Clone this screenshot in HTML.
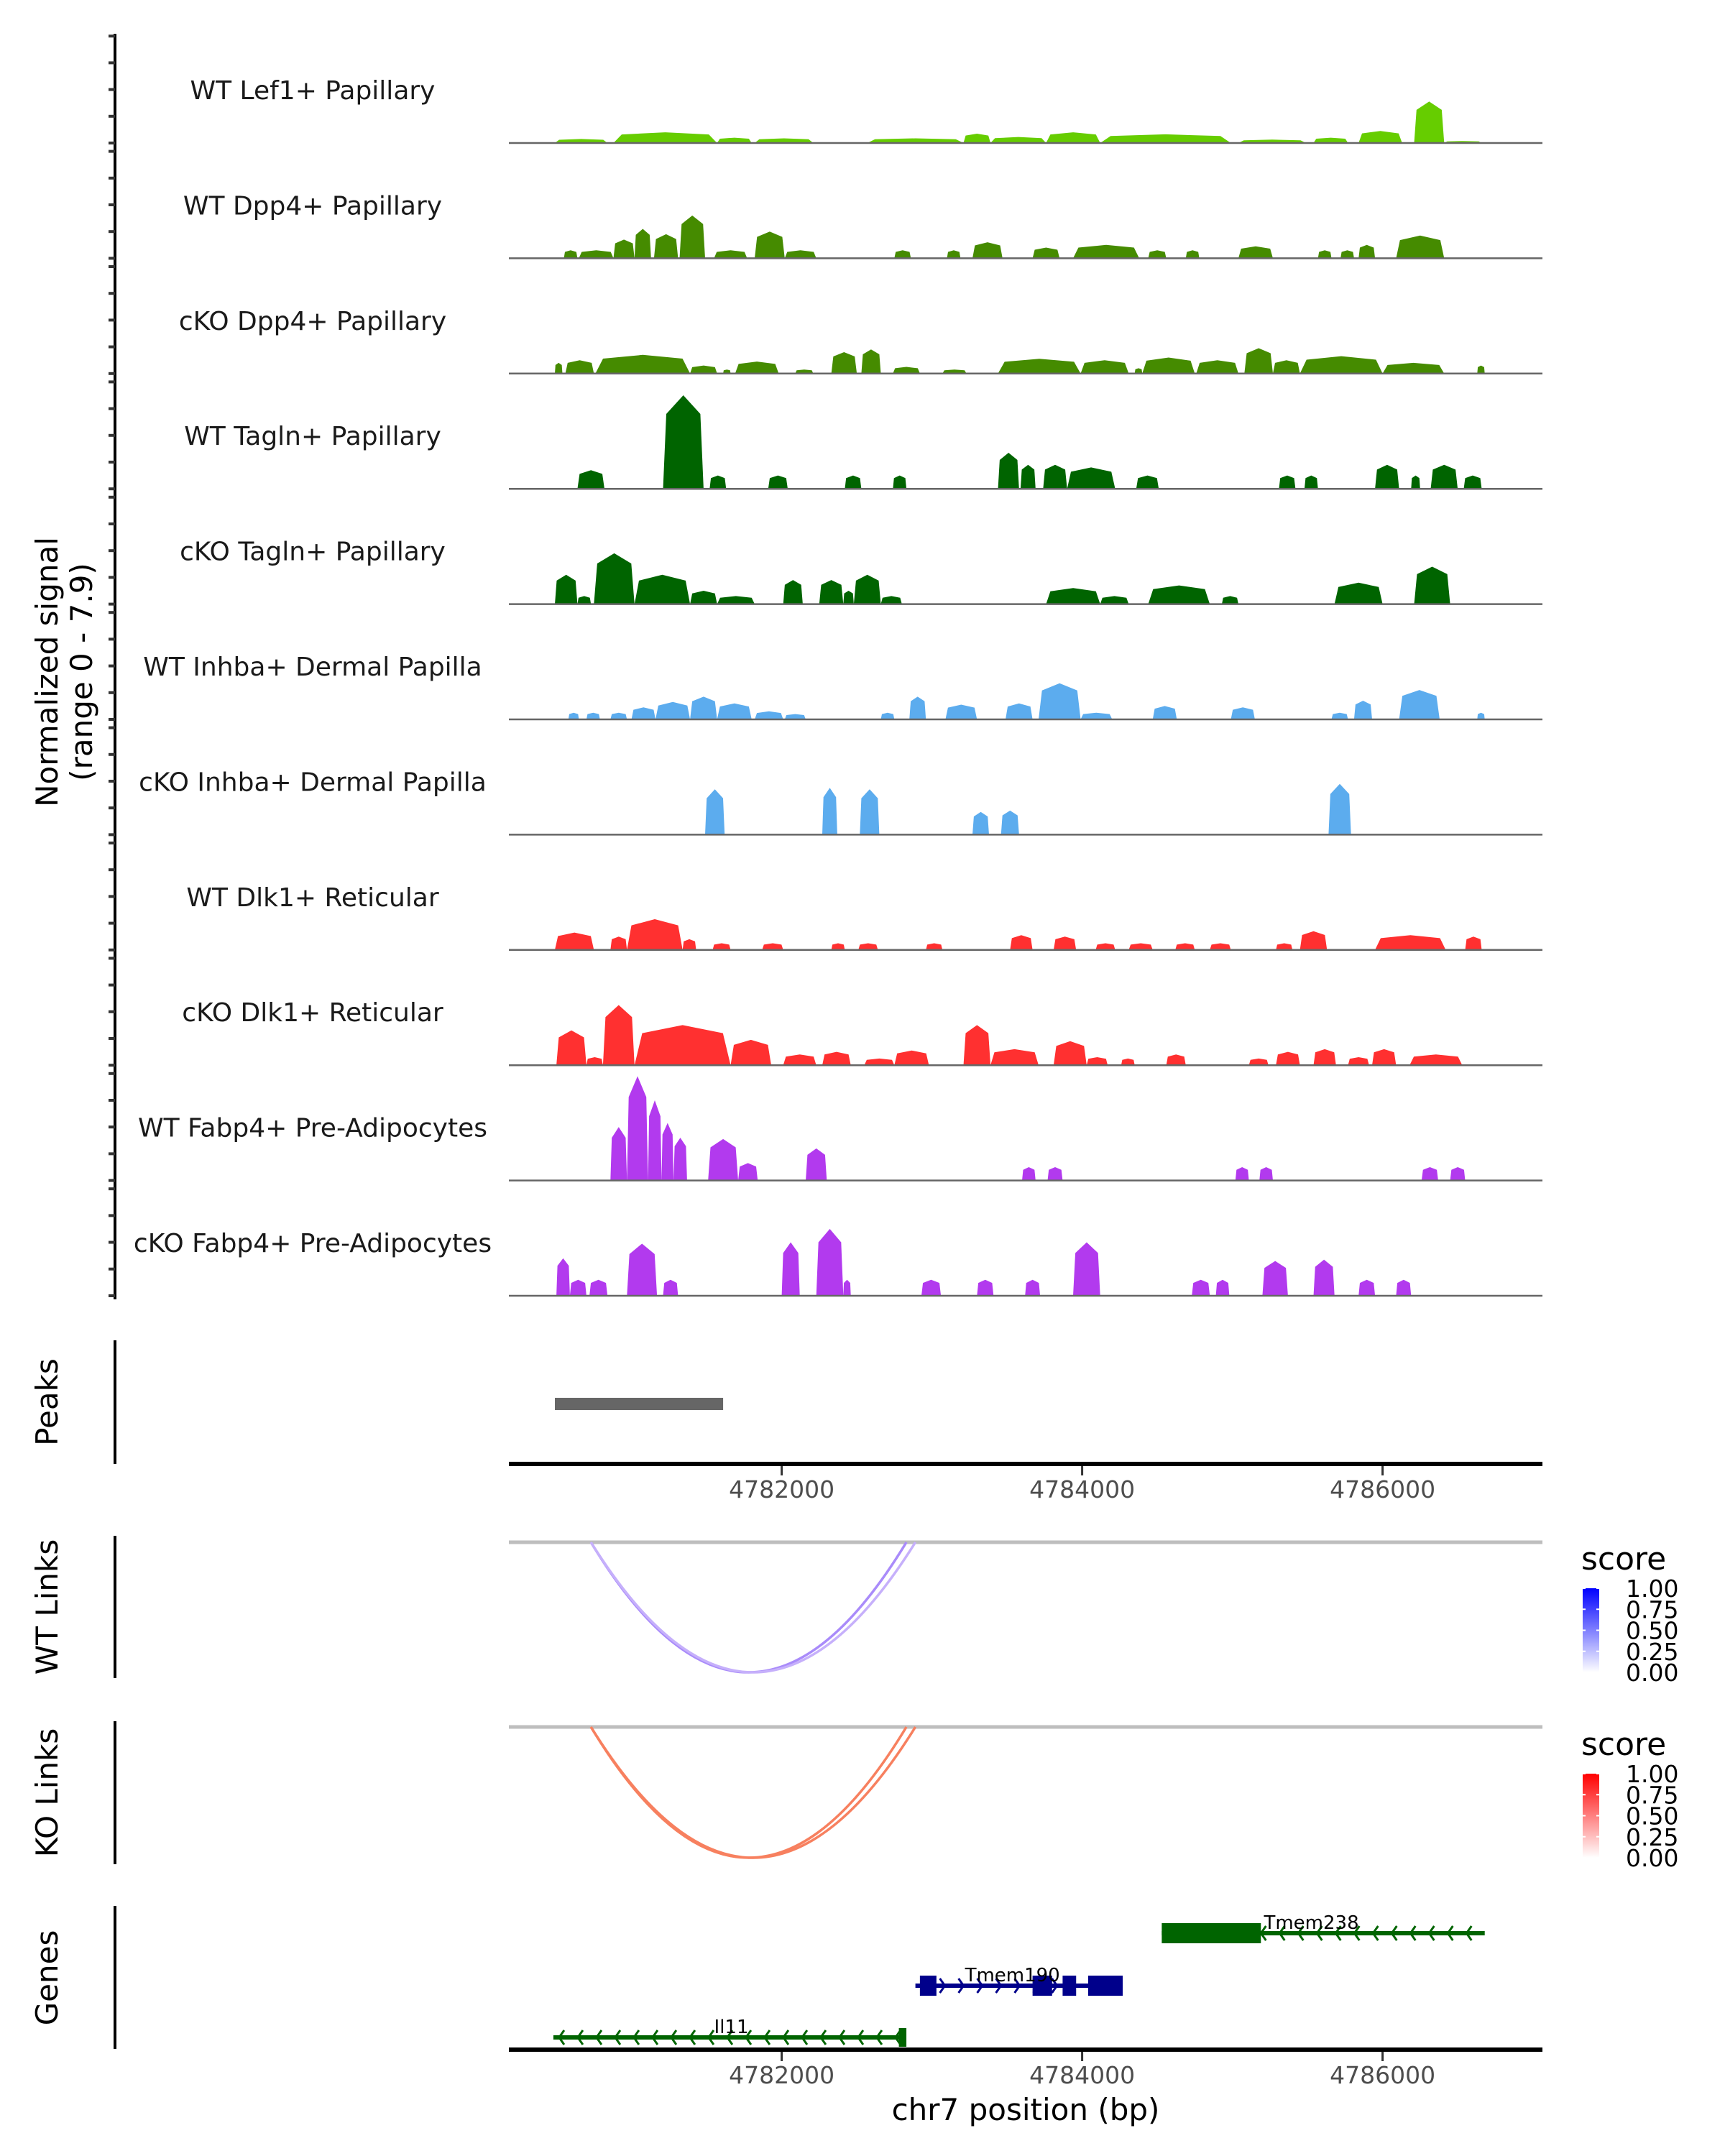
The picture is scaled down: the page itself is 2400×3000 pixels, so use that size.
<!DOCTYPE html>
<html><head><meta charset="utf-8">
<style>
html,body{margin:0;padding:0;background:#fff;}
svg{display:block;}
text{font-family:"DejaVu Sans","Liberation Sans",sans-serif;}
</style></head>
<body>
<svg id="chart" width="2400" height="3000" viewBox="0 0 2400 3000" xmlns="http://www.w3.org/2000/svg">
<rect width="2400" height="3000" fill="#fff"/>
<g id="tracks"></g>
<g id="lower"></g>
</svg>
<script>
// ---- data (positions in kb on chr7, signal 0-7.9) ----
const trackNames = ["WT Lef1+ Papillary","WT Dpp4+ Papillary","cKO Dpp4+ Papillary","WT Tagln+ Papillary","cKO Tagln+ Papillary","WT Inhba+ Dermal Papilla","cKO Inhba+ Dermal Papilla","WT Dlk1+ Reticular","cKO Dlk1+ Reticular","WT Fabp4+ Pre-Adipocytes","cKO Fabp4+ Pre-Adipocytes"];
const trackColors = ["#66CD00","#458B00","#458B00","#006400","#006400","#5CACEE","#5CACEE","#FF3030","#FF3030","#B23AEE","#B23AEE"];
const lef1WT = [[4780.49,4780.84,0.3],[4780.88,4781.57,0.8],[4781.57,4781.80,0.4],[4781.82,4782.21,0.35],[4782.57,4783.21,0.35],[4783.21,4783.39,0.7],[4783.39,4783.76,0.45],[4783.76,4784.12,0.8],[4784.12,4784.99,0.65],[4785.04,4785.49,0.25],[4785.54,4785.77,0.4],[4785.84,4786.13,0.9],[4786.21,4786.41,3.1],[4786.41,4786.66,0.15]];
const dpp4WT = [[4780.55,4780.64,0.6],[4780.65,4780.88,0.6],[4780.88,4781.02,1.4],[4781.02,4781.13,2.2],[4781.15,4781.31,1.8],[4781.32,4781.49,3.2],[4781.55,4781.77,0.6],[4781.82,4782.02,2.0],[4782.02,4782.23,0.6],[4782.75,4782.86,0.6],[4783.10,4783.19,0.6],[4783.27,4783.47,1.2],[4783.67,4783.85,0.8],[4783.94,4784.38,1.0],[4784.44,4784.56,0.6],[4784.69,4784.78,0.6],[4785.04,4785.27,0.9],[4785.57,4785.66,0.6],[4785.72,4785.81,0.6],[4785.84,4785.95,1.0],[4786.09,4786.41,1.7]];
const dpp4KO = [[4780.49,4780.54,0.8],[4780.56,4780.75,1.0],[4780.76,4781.39,1.4],[4781.39,4781.57,0.6],[4781.61,4781.66,0.3],[4781.69,4781.98,0.9],[4782.09,4782.21,0.3],[4782.33,4782.50,1.6],[4782.53,4782.66,1.8],[4782.74,4782.92,0.5],[4783.07,4783.23,0.3],[4783.44,4783.99,1.1],[4783.99,4784.31,1.0],[4784.35,4784.40,0.4],[4784.40,4784.75,1.2],[4784.76,4785.04,1.0],[4785.08,4785.27,1.9],[4785.27,4785.45,1.0],[4785.45,4786.00,1.3],[4786.00,4786.41,0.8],[4786.63,4786.68,0.6]];
const taglnWT = [[4780.64,4780.82,1.4],[4781.21,4781.48,7.0],[4781.52,4781.63,1.0],[4781.91,4782.04,1.0],[4782.42,4782.53,1.0],[4782.74,4782.83,1.0],[4783.44,4783.58,2.7],[4783.59,4783.69,1.8],[4783.74,4783.90,1.8],[4783.90,4784.22,1.6],[4784.36,4784.51,1.0],[4785.31,4785.42,1.0],[4785.48,4785.57,1.0],[4785.95,4786.11,1.8],[4786.19,4786.25,1.0],[4786.32,4786.50,1.8],[4786.54,4786.66,1.0]];
const taglnKO = [[4780.49,4780.64,2.2],[4780.64,4780.73,0.6],[4780.75,4781.02,3.8],[4781.02,4781.39,2.2],[4781.39,4781.57,1.0],[4781.57,4781.82,0.6],[4782.01,4782.14,1.8],[4782.25,4782.41,1.8],[4782.41,4782.48,1.0],[4782.48,4782.66,2.2],[4782.66,4782.80,0.6],[4783.76,4784.12,1.2],[4784.12,4784.31,0.6],[4784.44,4784.85,1.4],[4784.93,4785.04,0.6],[4785.68,4786.00,1.6],[4786.21,4786.45,2.8]];
const inhbaWT = [[4780.58,4780.65,0.5],[4780.70,4780.79,0.5],[4780.86,4780.97,0.5],[4781.00,4781.16,0.9],[4781.16,4781.39,1.3],[4781.39,4781.57,1.7],[4781.57,4781.80,1.2],[4781.82,4782.01,0.6],[4782.02,4782.16,0.4],[4782.66,4782.75,0.5],[4782.85,4782.96,1.7],[4783.09,4783.30,1.1],[4783.49,4783.67,1.2],[4783.71,4783.99,2.7],[4783.99,4784.20,0.5],[4784.47,4784.63,1.0],[4784.99,4785.15,0.9],[4785.66,4785.77,0.5],[4785.81,4785.93,1.4],[4786.11,4786.38,2.2],[4786.63,4786.68,0.5]];
const inhbaKO = [[4781.49,4781.62,3.4],[4782.27,4782.37,3.5],[4782.52,4782.65,3.4],[4783.27,4783.38,1.7],[4783.46,4783.58,1.8],[4785.64,4785.79,3.8]];
const dlk1WT = [[4780.49,4780.75,1.3],[4780.86,4780.97,1.0],[4780.97,4781.34,2.3],[4781.34,4781.43,0.8],[4781.54,4781.66,0.5],[4781.87,4782.01,0.5],[4782.33,4782.42,0.5],[4782.51,4782.64,0.5],[4782.96,4783.07,0.5],[4783.52,4783.67,1.1],[4783.81,4783.96,1.0],[4784.09,4784.22,0.5],[4784.31,4784.47,0.5],[4784.62,4784.75,0.5],[4784.85,4784.99,0.5],[4785.29,4785.40,0.5],[4785.45,4785.63,1.4],[4785.95,4786.42,1.1],[4786.55,4786.66,1.0]];
const dlk1KO = [[4780.50,4780.70,2.6],[4780.70,4780.81,0.6],[4780.81,4781.02,4.5],[4781.02,4781.66,3.0],[4781.66,4781.93,1.9],[4782.01,4782.23,0.8],[4782.27,4782.46,1.0],[4782.55,4782.75,0.5],[4782.75,4782.98,1.1],[4783.21,4783.39,3.0],[4783.39,4783.71,1.2],[4783.81,4784.03,1.8],[4784.03,4784.17,0.6],[4784.26,4784.35,0.5],[4784.56,4784.69,0.8],[4785.11,4785.24,0.5],[4785.29,4785.45,1.0],[4785.54,4785.69,1.2],[4785.77,4785.91,0.6],[4785.93,4786.09,1.2],[4786.18,4786.53,0.8]];
const fabp4WT = [[4780.86,4780.97,4.0],[4780.97,4781.11,7.8],[4781.11,4781.20,6.0],[4781.20,4781.28,4.3],[4781.28,4781.37,3.2],[4781.51,4781.71,3.1],[4781.71,4781.84,1.3],[4782.16,4782.30,2.4],[4783.60,4783.69,1.0],[4783.77,4783.87,1.0],[4785.02,4785.11,1.0],[4785.18,4785.27,1.0],[4786.26,4786.37,1.0],[4786.45,4786.55,1.0]];
const fabp4KO = [[4780.50,4780.59,2.8],[4780.59,4780.70,1.2],[4780.72,4780.84,1.2],[4780.97,4781.17,3.9],[4781.21,4781.31,1.2],[4782.00,4782.12,4.0],[4782.23,4782.41,5.0],[4782.41,4782.46,1.2],[4782.93,4783.06,1.2],[4783.30,4783.41,1.2],[4783.62,4783.72,1.2],[4783.94,4784.12,4.0],[4784.73,4784.85,1.2],[4784.89,4784.98,1.2],[4785.20,4785.37,2.6],[4785.54,4785.68,2.7],[4785.84,4785.95,1.2],[4786.09,4786.19,1.2]];
const trackData = [lef1WT,dpp4WT,dpp4KO,taglnWT,taglnKO,inhbaWT,inhbaKO,dlk1WT,dlk1KO,fabp4WT,fabp4KO];
const signalTicks = [0,2,4,6,8];
const xTicks = [4782000,4784000,4786000];
const peakRanges = [[4780.49,4781.61]];
const wtLinks = [[4780.73,4782.83,0.35],[4780.73,4782.89,0.25]];
const koLinks = [[4780.73,4782.83,0.5],[4780.73,4782.89,0.4]];
const legendTicks = ["1.00","0.75","0.50","0.25","0.00"];
const genes = [
  {name:"Tmem238",start:4784.53,end:4786.68,strand:-1,row:0,color:"#006400",exons:[[4784.53,4785.19]],lx:4785.21},
  {name:"Tmem190",start:4782.89,end:4784.27,strand:1,row:1,color:"#00008B",exons:[[4782.92,4783.03],[4783.67,4783.80],[4783.87,4783.96],[4784.04,4784.27]],lx:4783.22},
  {name:"Il11",start:4780.48,end:4782.81,strand:-1,row:2,color:"#006400",exons:[[4782.78,4782.83]],lx:4781.55}
];

// ---- scales ----
const NS="http://www.w3.org/2000/svg";
const X0=708, X1=2146;
function xs(kb){ return 772 + (kb-4780.49)*209; }
const BASE0=199, STEP=160.4, PXU=18.6;
function ys(k,v){ return BASE0+k*STEP - v*PXU; }
function mk(tag,attrs,parent){const e=document.createElementNS(NS,tag);for(const k in attrs)e.setAttribute(k,attrs[k]);parent.appendChild(e);return e;}
const tg=document.getElementById('tracks');
const lg=document.getElementById('lower');

let ax=mk('line',{x1:160,y1:47,x2:160,y2:1808,stroke:'#000','stroke-width':4},tg);


let yt=mk('text',{x:0,y:0,'font-size':42,'text-anchor':'middle',transform:'translate(80,935) rotate(-90)',fill:'#000'},tg);


yt.textContent='Normalized signal';
let yt2=mk('text',{x:0,y:0,'font-size':42,'text-anchor':'middle',transform:'translate(128,935) rotate(-90)',fill:'#000'},tg);


yt2.textContent='(range 0 - 7.9)';

trackData.forEach((blobs,k)=>{
  const g=mk('g',{},tg);
  
  
  signalTicks.forEach(v=>{
    const t=mk('line',{x1:151,x2:160,y1:ys(k,v),y2:ys(k,v),stroke:'#333','stroke-width':4},g);
    
    
  });
  const lab=mk('text',{x:435,y:ys(k,0)-61,'font-size':36,'text-anchor':'middle',fill:'#1a1a1a'},g);
  
  
  lab.textContent=trackNames[k];
  blobs.forEach(b=>{
    const a=xs(b[0]), e=xs(b[1]), w=e-a, yb=ys(k,0), yt=ys(k,b[2]), yh=ys(k,b[2]*0.8);
    const pts=[[a,yb],[a+0.08*w,yh],[a+0.5*w,yt],[e-0.08*w,yh],[e,yb]].map(p=>p[0].toFixed(1)+','+p[1].toFixed(1)).join(' ');
    const p=mk('polygon',{points:pts,fill:trackColors[k]},g);
    
    
  });
  const bl=mk('line',{x1:X0,x2:X1,y1:ys(k,0),y2:ys(k,0),stroke:'#666','stroke-width':2.5},g);
  
  
});

function sideLabel(txt,cy,name){
  const t=mk('text',{x:0,y:0,'font-size':42,'text-anchor':'middle',transform:'translate(80,'+cy+') rotate(-90)',fill:'#000'},lg);
  
  
  t.textContent=txt;
}
function sideAxis(y1,y2,name){
  const l=mk('line',{x1:160,x2:160,y1:y1,y2:y2,stroke:'#000','stroke-width':4},lg);
  
  
}
function xAxis(y,name){
  const g=mk('g',{},lg);
  
  
  mk('line',{x1:X0,x2:X1,y1:y,y2:y,stroke:'#000','stroke-width':6},g);
  xTicks.forEach(v=>{
    const x=xs(v/1000);
    const t=mk('line',{x1:x,x2:x,y1:y+3,y2:y+16,stroke:'#333','stroke-width':3},g);
    
    
    const l=mk('text',{x:x,y:y+47,'font-size':33,'text-anchor':'middle',fill:'#4d4d4d'},g);
    
    
    l.textContent=String(v);
  });
}

sideAxis(1865,2037,'peaks-axis-line');
sideLabel('Peaks',1951,'peaks-label');
peakRanges.forEach(r=>{
  const p=mk('rect',{x:xs(r[0]),y:1945,width:xs(r[1])-xs(r[0]),height:17,fill:'#666'},lg);
  
  
});
xAxis(2037,'peaks-x-axis');

function linksPanel(links,top,bottom,lineY,depthY,colLo,colHi,gradTop,label,name,legY){
  sideAxis(top,bottom,name+'-axis-line');
  sideLabel(label,(top+bottom)/2,name+'-label');
  const gl=mk('line',{x1:X0,x2:X1,y1:lineY,y2:lineY,stroke:'#bebebe','stroke-width':5},lg);
  
  
  links.forEach(l=>{
    const a=xs(l[0]), b=xs(l[1]), cy=2*depthY-lineY;
    const col=l[2]<0.3?colLo:colHi;
    const p=mk('path',{d:`M${a},${lineY} Q${(a+b)/2},${cy} ${b},${lineY}`,fill:'none',stroke:col,'stroke-width':3.5},lg);
    
    
  });
  const lgd=mk('g',{},lg);
  
  
  const st=mk('text',{x:2200,y:legY-26,'font-size':44,fill:'#000'},lgd);
  st.textContent='score';
  const gid=name+'grad';
  const defs=mk('defs',{},lgd);
  const gr=mk('linearGradient',{id:gid,x1:0,y1:0,x2:0,y2:1},defs);
  mk('stop',{offset:0,'stop-color':gradTop},gr);
  mk('stop',{offset:1,'stop-color':'#ffffff'},gr);
  mk('rect',{x:2202,y:legY,width:23,height:117,fill:`url(#${gid})`},lgd);
  legendTicks.forEach((t,i)=>{
    const yy=legY+i*29.25;
    mk('line',{x1:2202,x2:2206,y1:yy,y2:yy,stroke:'#fff','stroke-width':2},lgd);
    mk('line',{x1:2221,x2:2225,y1:yy,y2:yy,stroke:'#fff','stroke-width':2},lgd);
    const tx=mk('text',{x:2262,y:yy+12,'font-size':33,fill:'#000'},lgd);
    
    
    tx.textContent=t;
  });
}
linksPanel(wtLinks,2137,2335,2146,2327,'#C6B0FB','#A98BFA','#0000FF','WT Links','wt-links',2210);
linksPanel(koLinks,2395,2594,2403,2585,'#F8A488','#F7805F','#FF0000','KO Links','ko-links',2468);

sideAxis(2652,2851,'genes-axis-line');
sideLabel('Genes',2752,'genes-label');
const rowY=[2690,2763,2835];
genes.forEach(gn=>{
  const g=mk('g',{},lg);
  
  
  const y=rowY[gn.row];
  const a=xs(gn.start), b=xs(gn.end);
  mk('line',{x1:a,x2:b,y1:y,y2:y,stroke:gn.color,'stroke-width':6},g);
  for(let x=a+8;x<b-4;x+=26){
    const d=gn.strand<0?`M${x+7},${y-10} L${x},${y} L${x+7},${y+10}`:`M${x},${y-10} L${x+7},${y} L${x},${y+10}`;
    mk('path',{d:d,fill:'none',stroke:gn.color,'stroke-width':3},g);
  }
  const hh=gn.name==='Il11'?13:14;
  gn.exons.forEach(e=>{
    const r=mk('rect',{x:xs(e[0]),y:y-hh,width:xs(e[1])-xs(e[0]),height:2*hh,fill:gn.color},g);
    
    
  });
  const t=mk('text',{x:xs(gn.lx),y:y-6,'font-size':26,fill:'#000'},g);
  
  
  t.textContent=gn.name;
});
xAxis(2852,'genes-x-axis');
const xt=mk('text',{x:1427,y:2950,'font-size':42,'text-anchor':'middle',fill:'#000'},lg);


xt.textContent='chr7 position (bp)';
</script>
</body></html>
